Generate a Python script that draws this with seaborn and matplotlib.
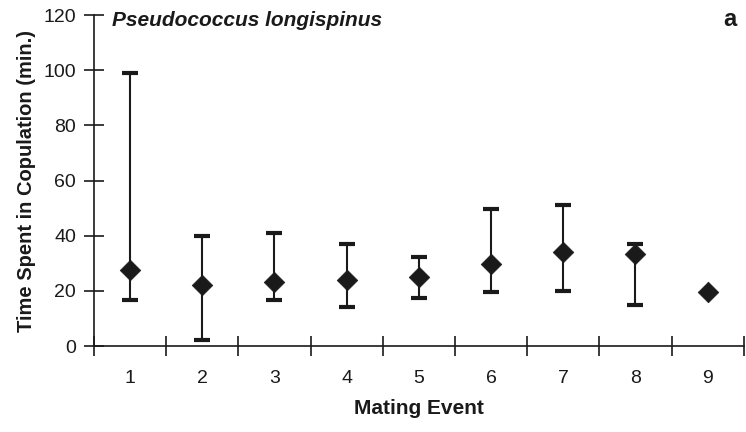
import matplotlib
matplotlib.use("Agg")
import matplotlib.pyplot as plt
import seaborn as sns
import numpy as np
import pandas as pd

mating_event = [1, 2, 3, 4, 5, 6, 7, 8, 9]
mean_time = [27.7, 22.0, 23.2, 23.8, 24.9, 29.6, 34.1, 33.2, 19.6]
max_time = [99.0, 39.9, 41.1, 37.1, 32.2, 49.7, 51.3, 36.9, 19.6]
min_time = [16.7, 2.2, 16.7, 14.0, 17.5, 19.5, 20.1, 14.9, 19.6]
y_ticks = [0, 20, 40, 60, 80, 100, 120]

sns.set_theme(style="ticks")
plt.rcParams['font.family'] = ['Liberation Sans', 'DejaVu Sans']

df = pd.DataFrame({"event": mating_event, "mean": mean_time,
                   "lo": min_time, "hi": max_time})

fig = plt.figure(figsize=(7.46, 4.32), dpi=100)
ax = fig.add_axes([0.126, 0.199, 0.871, 0.766])

col = "#1a1a1a"
has_err = df["hi"] > df["lo"]
d = df[has_err]
ax.errorbar(d["event"], d["mean"],
            yerr=[d["mean"] - d["lo"], d["hi"] - d["mean"]],
            fmt="none", ecolor=col, elinewidth=1.5, capsize=5.5, capthick=3, zorder=2)
sns.scatterplot(data=df, x="event", y="mean", marker="D", s=110, color=col,
                edgecolor=col, linewidth=0.5, ax=ax, zorder=3)

ax.set_xlim(0.5, 9.5)
ax.set_ylim(0, 120)
ax.set_yticks(y_ticks)
ax.set_xticks(mating_event)
ax.set_xticks(np.arange(0.5, 10.0, 1.0), minor=True)
ax.tick_params(axis="x", which="major", length=0, pad=17, labelsize=14, colors="#1a1a1a")
ax.tick_params(axis="x", which="minor", length=14, width=1.2, direction="inout", color="#1a1a1a")
ax.tick_params(axis="y", which="major", length=14, width=1.2, direction="inout", pad=6,
               labelsize=14, colors="#1a1a1a")
for s in ["top", "right"]:
    ax.spines[s].set_visible(False)
for s in ["left", "bottom"]:
    ax.spines[s].set_linewidth(1.2)
    ax.spines[s].set_color("#1a1a1a")

ax.set_xlabel("Mating Event", fontsize=15, fontweight="bold", labelpad=9, color="#1a1a1a")
ax.set_ylabel("Time Spent in Copulation (min.)", fontsize=14.5, fontweight="bold",
              labelpad=5, color="#1a1a1a")

fig.text(112 / 746, 1 - 20 / 432, "Pseudococcus longispinus", fontsize=15,
         fontweight="bold", fontstyle="italic", va="center", ha="left", color="#1a1a1a")
fig.text(730 / 746, 1 - 20 / 432, "a", fontsize=17, fontweight="bold",
         va="center", ha="center", color="#1a1a1a")

fig.savefig("out.png", dpi=100)
